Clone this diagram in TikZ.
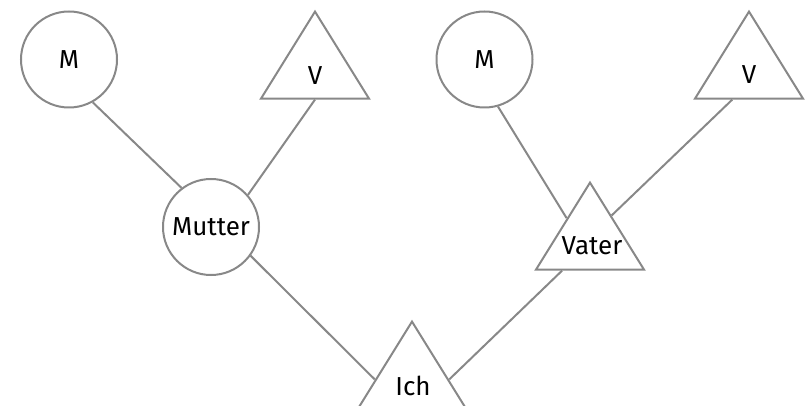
\documentclass[tikz,border=0pt]{standalone}
\usepackage{fontspec}
\setmainfont{Fira Sans}
\usetikzlibrary{shapes.geometric,calc}
\definecolor{edge}{HTML}{888888}
\tikzset{
  circ/.style={circle,draw=edge,line width=2pt,minimum size=96pt,inner sep=0pt,font=\fontsize{26}{30}\selectfont},
  tri/.style={isosceles triangle,shape border rotate=90,isosceles triangle stretches,draw=edge,line width=2pt,minimum width=108pt,minimum height=87pt,inner sep=0pt},
  lbl/.style={font=\fontsize{26}{30}\selectfont,inner sep=0pt},
  conn/.style={draw=edge,line width=2pt}
}
\begin{document}
\begin{tikzpicture}[x=1pt,y=-1pt]
\useasboundingbox (0,0) rectangle (806,406);
% circles
\node[circ] (m1) at (69,59.5) {M};
\node[circ] (mutter) at (211,227) {Mutter};
\node[circ] (m2) at (484.5,59.5) {M};
% triangles
\node[tri,anchor=apex] (v1) at (315,9) {};
\node[lbl] (v1t) at (315,76) {V};
\node[tri,anchor=apex] (v2) at (749,9) {};
\node[lbl] (v2t) at (749,75) {V};
\node[tri,anchor=apex] (vater) at (590,180) {};
\node[lbl] (vatert) at (592,246) {Vater};
\node[tri,anchor=apex] (ich) at (412,319) {};
\node[lbl] (icht) at (413,386) {Ich};
% connectors
\draw[conn] (m1.-61) -- (mutter.127);
\draw[conn] (v1.lower side) -- (mutter.41);
\draw[conn] (mutter.-36) -- ($(ich.apex)!0.667!(ich.left corner)$);
\draw[conn] (m2.-74) -- ($(vater.apex)!0.42!(vater.left corner)$);
\draw[conn] ($(v2.lower side)!0.3!(v2.left corner)$) -- ($(vater.apex)!0.39!(vater.right corner)$);
\draw[conn] ($(vater.lower side)!0.5!(vater.left corner)$) -- ($(ich.apex)!0.667!(ich.right corner)$);
\end{tikzpicture}
\end{document}
